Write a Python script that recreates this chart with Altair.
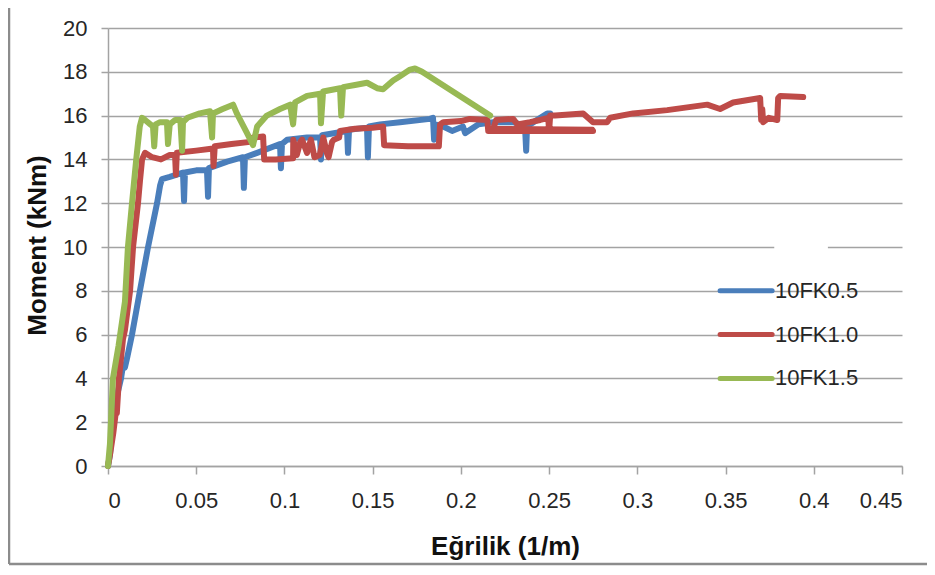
import altair as alt
import pandas as pd

series_names = ["10FK0.5", "10FK1.0", "10FK1.5"]
series_colors = ["#4a7ebb", "#be4b48", "#98b954"]

x_ticks = [0, 0.05, 0.1, 0.15, 0.2, 0.25, 0.3, 0.35, 0.4, 0.45]
y_ticks = [0, 2, 4, 6, 8, 10, 12, 14, 16, 18, 20]

# 10FK0.5 (blue)
fk05_x = [0, 0.0011, 0.0028, 0.0045, 0.0074, 0.0085, 0.0096, 0.011, 0.0136, 0.0181,
          0.0227, 0.0278, 0.0295, 0.0306, 0.035, 0.0425, 0.0431, 0.0436, 0.05, 0.0561,
          0.0567, 0.0572, 0.0675, 0.0765, 0.077, 0.0776, 0.0845, 0.0975, 0.098, 0.0986,
          0.1015, 0.1128, 0.1202, 0.1207, 0.1213, 0.1355, 0.136, 0.1366, 0.1468, 0.1473,
          0.1479, 0.1542, 0.1655, 0.1825, 0.1842, 0.1848, 0.1855, 0.19, 0.195, 0.2012,
          0.2024, 0.21, 0.2183, 0.2296, 0.2336, 0.2364, 0.237, 0.2375, 0.2392, 0.2489,
          0.2506]
fk05_y = [0, 0.5, 2.0, 3.0, 4.0, 4.6, 4.5, 5.0, 6.0, 8.0,
          10.0, 12.0, 12.8, 13.1, 13.2, 13.4, 12.1, 13.4, 13.5, 13.5,
          12.3, 13.6, 13.9, 14.1, 12.7, 14.1, 14.3, 14.7, 13.6, 14.7,
          14.9, 15.0, 15.0, 14.0, 15.1, 15.3, 14.3, 15.35, 15.45, 14.1,
          15.5, 15.6, 15.7, 15.85, 15.9, 14.9, 15.6, 15.5, 15.3, 15.5,
          15.2, 15.6, 15.7, 15.7, 15.6, 15.4, 14.4, 15.5, 15.6, 16.1,
          16.1]

# 10FK1.0 (red)
fk10_x = [0, 0.0011, 0.003, 0.0045, 0.005, 0.0062, 0.0085, 0.0096, 0.0125, 0.0142,
          0.017, 0.0181, 0.0193, 0.021, 0.025, 0.03, 0.035, 0.038, 0.0385, 0.039,
          0.05, 0.0595, 0.0598, 0.0605, 0.07, 0.0805, 0.0822, 0.0879, 0.0885, 0.095,
          0.1049, 0.105, 0.107, 0.109, 0.11, 0.1128, 0.115, 0.117, 0.12, 0.122,
          0.124, 0.125, 0.127, 0.128, 0.131, 0.1315, 0.14, 0.15, 0.1559, 0.1565,
          0.17, 0.1825, 0.1875, 0.1882, 0.19, 0.2, 0.205, 0.215, 0.2155, 0.2749,
          0.2745, 0.2183, 0.22, 0.2296, 0.232, 0.2392, 0.245, 0.2495, 0.25, 0.2506,
          0.2534, 0.2693, 0.2749, 0.2829, 0.2846, 0.2976, 0.3169, 0.3396, 0.3469, 0.3543,
          0.3696, 0.3702, 0.3708, 0.3713, 0.3745, 0.3793, 0.3798, 0.381, 0.394]
fk10_y = [0, 0.5, 1.5, 2.5, 2.4, 4.0, 5.8, 6.2, 8.0, 10.0,
          12.0, 13.0, 14.0, 14.3, 14.1, 14.0, 14.2, 14.2, 13.3, 14.3,
          14.4, 14.5, 13.7, 14.6, 14.7, 14.8, 15.0, 15.05, 14.0, 14.0,
          14.05, 14.9, 14.2, 14.8, 14.9, 14.3, 14.9, 14.1, 14.2, 15.0,
          14.3, 14.1, 14.8, 14.9, 15.0, 15.3, 15.4, 15.45, 15.5, 14.65,
          14.6, 14.6, 14.6, 15.6, 15.7, 15.75, 15.85, 15.8, 15.3, 15.3,
          15.35, 15.4, 15.8, 15.85, 15.6, 15.7, 15.8, 15.9, 15.3, 16.0,
          16.0, 16.1, 15.7, 15.7, 15.9, 16.1, 16.25, 16.5, 16.3, 16.6,
          16.8, 15.8, 16.3, 15.7, 15.9, 15.8, 16.8, 16.9, 16.85]

# 10FK1.5 (green)
fk15_x = [0, 0.0011, 0.0028, 0.006, 0.0096, 0.0113, 0.0136, 0.016, 0.018, 0.0193,
          0.021, 0.024, 0.0255, 0.0262, 0.027, 0.0295, 0.0334, 0.034, 0.035, 0.038,
          0.041, 0.042, 0.0425, 0.045, 0.052, 0.0578, 0.059, 0.0595, 0.065, 0.0709,
          0.073, 0.0788, 0.0822, 0.0845, 0.09, 0.0975, 0.1032, 0.1049, 0.106, 0.1128,
          0.1202, 0.1207, 0.1219, 0.1315, 0.1322, 0.1332, 0.14, 0.1468, 0.1525, 0.1559,
          0.1616, 0.1655, 0.1712, 0.174, 0.178, 0.2166]
fk15_y = [0, 1.0, 4.0, 5.5, 7.5, 10.0, 12.0, 14.0, 15.5, 15.9,
          15.8, 15.6, 15.5, 14.6, 15.6, 15.7, 15.7, 14.7, 15.6, 15.8,
          15.8, 14.4, 15.7, 15.9, 16.1, 16.2, 15.0, 16.1, 16.3, 16.5,
          16.1, 15.2, 14.65, 15.5, 16.0, 16.3, 16.5, 15.6, 16.6, 16.9,
          17.0, 15.65, 17.1, 17.25, 16.0, 17.3, 17.4, 17.5, 17.25, 17.2,
          17.6, 17.8, 18.1, 18.15, 18.0, 16.0]

legend_y = [8, 6, 4]
legend_x1 = 0.3469
legend_x2 = 0.3764
legend_tx = 0.378

rows = []
for name, xs, ys in zip(series_names, [fk05_x, fk10_x, fk15_x], [fk05_y, fk10_y, fk15_y]):
    for i, (xv, yv) in enumerate(zip(xs, ys)):
        rows.append({"series": name, "x": xv, "y": yv, "i": i})
df = pd.DataFrame(rows)

leg = pd.DataFrame({"series": series_names, "y": legend_y,
                    "x1": [legend_x1] * 3, "x2": [legend_x2] * 3, "tx": [legend_tx] * 3})

FONT = "Liberation Sans"
W, H = 794, 438

x_scale = alt.Scale(domain=[0, 0.45], nice=False, zero=False)
y_scale = alt.Scale(domain=[0, 20], nice=False, zero=False)
color_scale = alt.Scale(domain=series_names, range=series_colors)

x_axis = alt.Axis(values=x_ticks, format="~g", grid=False, tickSize=8, labelPadding=16,
                  title="Eğrilik (1/m)", titleX=W / 2, titleY=80, titleBaseline="middle",
                  titleAlign="center")
y_axis = alt.Axis(values=y_ticks, format="d", grid=True, tickSize=7, labelPadding=14,
                  title="Moment (kNm)", titleX=-71, titleY=217, titleAngle=270,
                  titleBaseline="middle", titleAlign="center")

layers = []
for name in series_names:
    layers.append(
        alt.Chart(df).transform_filter(alt.datum.series == name)
        .mark_line(strokeWidth=6, strokeCap="round", strokeJoin="round")
        .encode(
            x=alt.X("x:Q", scale=x_scale, axis=x_axis),
            y=alt.Y("y:Q", scale=y_scale, axis=y_axis),
            color=alt.Color("series:N", scale=color_scale, legend=None),
            order=alt.Order("i:Q"),
        )
    )

gap = alt.Chart(pd.DataFrame({"a": [10.0], "b": [0.3776], "c": [0.408]})).mark_rule(
    color="white", strokeWidth=4).encode(
    y=alt.Y("a:Q", scale=y_scale), x=alt.X("b:Q", scale=x_scale), x2="c:Q")

leg_lines = alt.Chart(leg).mark_rule(strokeWidth=5, strokeCap="round").encode(
    x=alt.X("x1:Q", scale=x_scale), x2="x2:Q",
    y=alt.Y("y:Q", scale=y_scale),
    color=alt.Color("series:N", scale=color_scale, legend=None))

leg_text = alt.Chart(leg).mark_text(align="left", baseline="middle", fontSize=22,
                                    font=FONT, color="#262626").encode(
    x=alt.X("tx:Q", scale=x_scale), y=alt.Y("y:Q", scale=y_scale), text="series:N")

border_df = pd.DataFrame({"k": [0]})
border_left = alt.Chart(border_df).mark_rule(color="#8c8c8c", strokeWidth=2.5).encode(
    x=alt.value(-99), y=alt.value(-30), y2=alt.value(536))
border_bottom = alt.Chart(border_df).mark_rule(color="#8c8c8c", strokeWidth=2.5).encode(
    x=alt.value(-99), x2=alt.value(830), y=alt.value(536))

chart = alt.layer(gap, *layers, leg_lines, leg_text, border_left, border_bottom).properties(
    width=W, height=H,
    autosize=alt.AutoSizeParams(type="none"),
    padding={"left": 100, "top": 20, "right": 25, "bottom": 101},
    background="white",
).configure_view(stroke=None).configure_axis(
    labelFont=FONT, labelFontSize=22, labelColor="#262626",
    titleFont=FONT, titleFontSize=26, titleFontWeight="bold", titleColor="#111111",
    gridColor="#a3a3a3", gridWidth=1.5,
    domainColor="#a3a3a3", domainWidth=1.5,
    tickColor="#a3a3a3", tickWidth=1.5,
)

chart.save("out.html", embed_options={"renderer": "svg", "actions": False})
